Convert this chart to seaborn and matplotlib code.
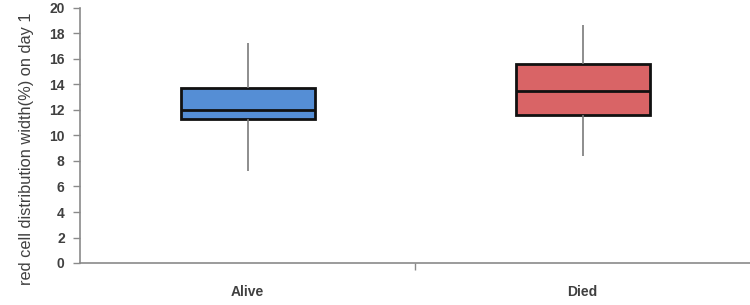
import matplotlib
matplotlib.use("Agg")
import matplotlib.pyplot as plt
import seaborn as sns
import pandas as pd
import numpy as np
from matplotlib.ticker import FixedLocator

# Five-number summaries (min, Q1, median, Q3, max)
categories = ["Alive", "Died"]
alive_values = [7.25, 11.27, 12.0, 13.73, 17.27]
died_values = [8.4, 11.63, 13.49, 15.58, 18.63]
colors = ["#558ED5", "#D96466"]
y_ticks = [0, 2, 4, 6, 8, 10, 12, 14, 16, 18, 20]
y_label = "red cell distribution width(%) on day 1"

df = pd.DataFrame({
    "group": [categories[0]] * len(alive_values) + [categories[1]] * len(died_values),
    "value": alive_values + died_values,
})

sns.set_theme(style="white")
plt.rcParams["font.family"] = ["Liberation Sans", "DejaVu Sans"]

fig = plt.figure(figsize=(7.5, 3.05), dpi=100)
ax = fig.add_axes([80 / 750, (305 - 263) / 305, 670 / 750, 255 / 305])

sns.boxplot(
    data=df, x="group", y="value", hue="group", palette=colors, legend=False,
    order=categories, width=0.4, whis=(0, 100), showcaps=False, saturation=1, ax=ax,
    boxprops=dict(edgecolor="#111111", linewidth=2.0),
    medianprops=dict(color="#111111", linewidth=2.0),
    whiskerprops=dict(color="#7a7a7a", linewidth=1.2),
    flierprops=dict(marker=""),
)

ax.set_xlim(-0.5, 1.5)
ax.set_ylim(0, 20)
ax.set_yticks(y_ticks)
ax.set_yticklabels([str(t) for t in y_ticks], fontweight="bold", fontsize=10, color="#404040")
ax.set_xticks([0, 1])
ax.set_xticklabels(categories, fontweight="bold", fontsize=10, color="#404040")
ax.xaxis.set_minor_locator(FixedLocator([0.5]))
ax.tick_params(axis="x", which="major", length=0, pad=16)
ax.tick_params(axis="x", which="minor", length=5, width=1, color="#8a8a8a", direction="out", bottom=True)
ax.tick_params(axis="y", which="major", length=5, width=1, color="#8a8a8a", direction="out", left=True, pad=6)

ax.set_xlabel("")
ax.set_ylabel(y_label, fontsize=11.8, color="#404040")
ax.yaxis.set_label_coords(-0.068, 0.447)

for side in ["top", "right"]:
    ax.spines[side].set_visible(False)
for side in ["left", "bottom"]:
    ax.spines[side].set_color("#8a8a8a")
    ax.spines[side].set_linewidth(1.2)

fig.savefig("out.png", dpi=100)
